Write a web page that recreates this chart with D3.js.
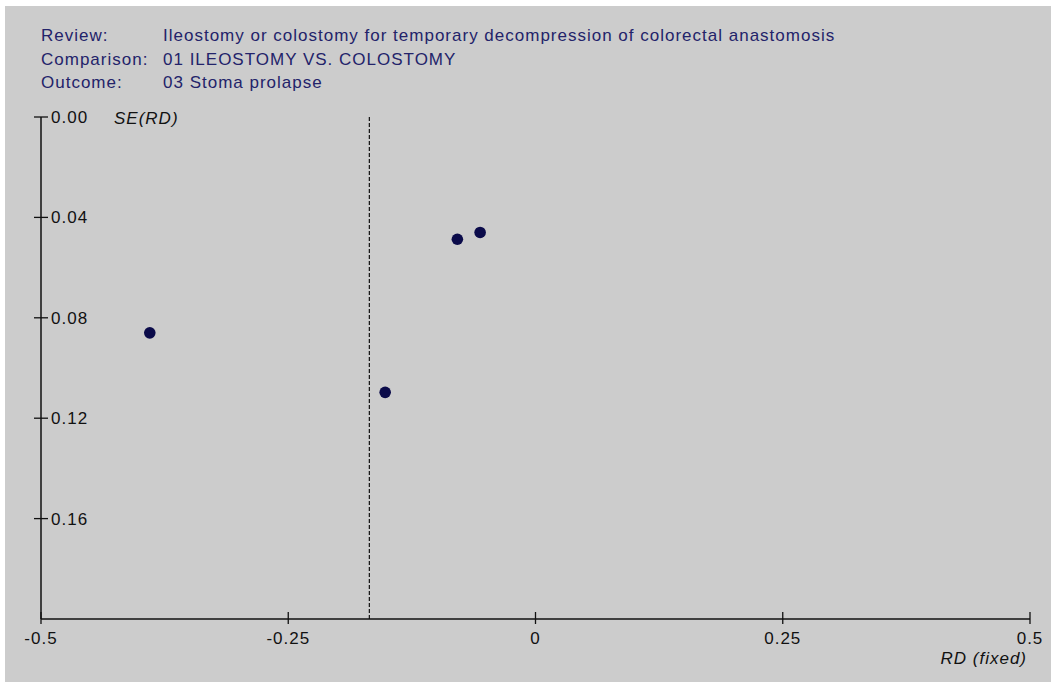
<!DOCTYPE html>
<html>
<head>
<meta charset="utf-8">
<script src="https://cdn.jsdelivr.net/npm/d3@7"></script>
<style>
  body { margin: 0; background: #ffffff; }
  svg { display: block; font-family: "Liberation Sans", Arial, sans-serif; }
  svg text { letter-spacing: 1px; }
</style>
</head>
<body>
<div class="svgGraphique"></div>
<script>
// Données
const headerLabels = ["Review:", "Comparison:", "Outcome:"];
const headerValues = [
  "Ileostomy or colostomy for temporary decompression of colorectal anastomosis",
  "01 ILEOSTOMY VS. COLOSTOMY",
  "03 Stoma prolapse"
];
const studyRD = [-0.39, -0.079, -0.056, -0.152];
const studySE = [0.086, 0.0487, 0.046, 0.1097];
const pooledRD = -0.168;
const xTicks = [-0.5, -0.25, 0, 0.25, 0.5];
const xTickLabels = ["-0.5", "-0.25", "0", "0.25", "0.5"];
const yTicks = [0, 0.04, 0.08, 0.12, 0.16];
const yTickLabels = ["0.00", "0.04", "0.08", "0.12", "0.16"];

const width = 1051, height = 682;
const fs = 17;

const svg = d3.select('.svgGraphique').append('svg')
    .attr('width', width)
    .attr('height', height);

// fond gris
svg.append('rect')
    .attr('x', 5).attr('y', 6)
    .attr('width', width - 5).attr('height', height - 6)
    .attr('fill', '#cccccc');

// En-tête
const header = svg.append('g').attr('font-size', fs).attr('fill', '#23236a');
headerLabels.forEach((lab, i) => {
    header.append('text').attr('x', 41).attr('y', 41 + i * 23.5).text(lab);
    header.append('text').attr('x', 163).attr('y', 41 + i * 23.5).text(headerValues[i]);
});

const x = d3.scaleLinear().domain([-0.5, 0.5]).range([41, 1030]);
const y = d3.scaleLinear().domain([0, 0.2]).range([117, 619]);

// axe Y
svg.append('line')
    .attr('x1', x(-0.5)).attr('x2', x(-0.5))
    .attr('y1', y(0)).attr('y2', y(0.2))
    .attr('stroke', '#111').attr('stroke-width', 1.5);

yTicks.forEach((t, i) => {
    svg.append('line')
        .attr('x1', x(-0.5) - 7).attr('x2', x(-0.5) + 7)
        .attr('y1', y(t)).attr('y2', y(t))
        .attr('stroke', '#111').attr('stroke-width', 1.3);
    svg.append('text')
        .attr('x', x(-0.5) + 10).attr('y', y(t) + 6)
        .attr('font-size', fs).attr('fill', '#111')
        .text(yTickLabels[i]);
});

svg.append('text')
    .attr('x', 114).attr('y', y(0) + 7)
    .attr('font-size', fs).attr('font-style', 'italic').attr('fill', '#111')
    .text('SE(RD)');

// axe X
svg.append('line')
    .attr('x1', x(-0.5)).attr('x2', x(0.5))
    .attr('y1', y(0.2)).attr('y2', y(0.2))
    .attr('stroke', '#111').attr('stroke-width', 1.5);

xTicks.forEach((t, i) => {
    svg.append('line')
        .attr('x1', x(t)).attr('x2', x(t))
        .attr('y1', y(0.2) - 7).attr('y2', y(0.2) + 5)
        .attr('stroke', '#111').attr('stroke-width', 1.3);
    svg.append('text')
        .attr('x', x(t)).attr('y', y(0.2) + 25)
        .attr('text-anchor', 'middle')
        .attr('font-size', fs).attr('fill', '#111')
        .text(xTickLabels[i]);
});

svg.append('text')
    .attr('x', 1027).attr('y', 664)
    .attr('text-anchor', 'end')
    .attr('font-size', fs).attr('font-style', 'italic').attr('fill', '#111')
    .text('RD (fixed)');

// ligne de l'effet poolé
svg.append('line')
    .attr('x1', x(pooledRD)).attr('x2', x(pooledRD))
    .attr('y1', y(0)).attr('y2', y(0.2))
    .attr('stroke', '#111').attr('stroke-width', 1.2)
    .attr('stroke-dasharray', '4,2');

// études
const data = studyRD.map((rd, i) => ({ rd: rd, se: studySE[i] }));
svg.selectAll('circle.study')
    .data(data)
    .join('circle')
    .attr('class', 'study')
    .attr('cx', d => x(d.rd))
    .attr('cy', d => y(d.se))
    .attr('r', 5.8)
    .attr('fill', '#0b0b4a');
</script>
</body>
</html>
